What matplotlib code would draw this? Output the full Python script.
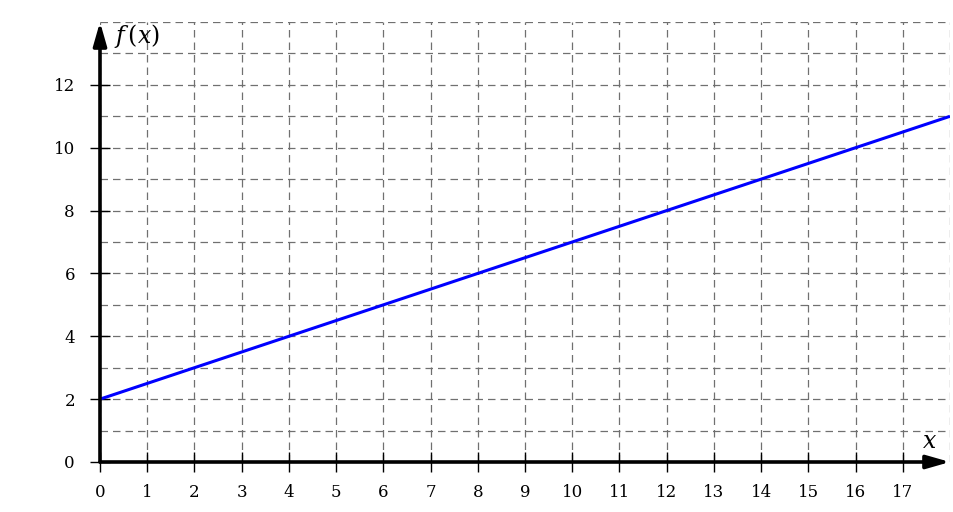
import numpy as np
import matplotlib.pyplot as plt

# data
x_vals = [0, 18]
y_vals = [2, 11]
x_ticks = list(range(0, 18))
y_ticks = [0, 2, 4, 6, 8, 10, 12]

plt.rcParams["font.family"] = ["DejaVu Serif"]
plt.rcParams["mathtext.fontset"] = "dejavuserif"

fig = plt.figure(figsize=(9.54, 5.12), dpi=100)
ax = fig.add_axes([100 / 954, 50 / 512, 850 / 954, 440 / 512])
ax.set_xlim(0, 18)
ax.set_ylim(0, 14)

# grid
for gx in range(0, 19):
    ax.plot([gx, gx], [0, 14], color="#707070", lw=0.9, ls=(0, (6, 4)), zorder=1)
for gy in range(0, 15):
    ax.plot([0, 18], [gy, gy], color="#707070", lw=0.9, ls=(0, (6, 4)), zorder=1)

ax.plot(x_vals, y_vals, color="#0000ff", lw=2.2, zorder=3, solid_capstyle="butt")

for s in ax.spines.values():
    s.set_visible(False)

# axes with arrows
arrow = dict(arrowstyle="-|>,head_length=0.7,head_width=0.2", color="black",
             lw=2.6, mutation_scale=20, shrinkA=0, shrinkB=0)
ax.annotate("", xy=(18, 0), xytext=(0, 0), arrowprops=arrow,
            annotation_clip=False, zorder=4)
ax.annotate("", xy=(0, 14), xytext=(0, 0), arrowprops=arrow,
            annotation_clip=False, zorder=4)

ax.set_xticks(x_ticks)
ax.set_yticks(y_ticks)
ax.tick_params(direction="inout", length=14, width=1.0, labelsize=12)
ax.tick_params(axis="x", pad=9)
ax.tick_params(axis="y", pad=11)

ax.text(17.4, 0.3, r"$x$", fontsize=17, ha="left", va="bottom")
ax.text(0.3, 13.1, r"$f\,(x)$", fontsize=17, ha="left", va="bottom")

fig.savefig("out.png", dpi=100)
